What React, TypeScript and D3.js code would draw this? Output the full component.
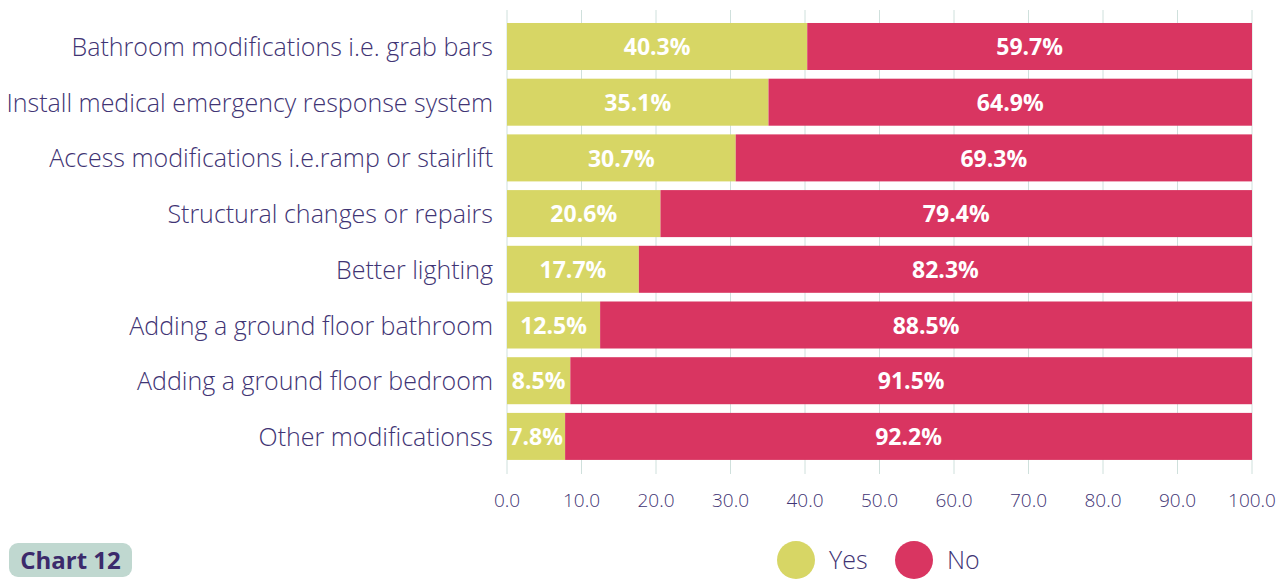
import React from "react";
import * as d3 from "d3";

const categories = [
  "Bathroom modifications i.e. grab bars",
  "Install medical emergency response system",
  "Access modifications i.e.ramp or stairlift",
  "Structural changes or repairs",
  "Better lighting",
  "Adding a ground floor bathroom",
  "Adding a ground floor bedroom",
  "Other modificationss",
];
const yesValues = [40.3, 35.1, 30.7, 20.6, 17.7, 12.5, 8.5, 7.8];
const noValues = [59.7, 64.9, 69.3, 79.4, 82.3, 88.5, 91.5, 92.2];
const tickValues = [0, 10, 20, 30, 40, 50, 60, 70, 80, 90, 100];
const seriesNames = ["Yes", "No"];

const YES = "#d7d665";
const NO = "#d93561";
const TEXT = "#3f3474";
const GRID = "#cfe0dc";
const FONT = "'Open Sans', sans-serif";

export default function App() {
  const W = 1287, H = 579;
  const x = d3.scaleLinear().domain([0, 100]).range([507, 1252]).clamp(true);
  const y = d3.scaleBand<string>().domain(categories).range([14.3, 468.6]).padding(0.156);
  const bw = y.bandwidth();

  return (
    <svg width={W} height={H} style={{ position: "absolute", left: 0, top: 0, fontFamily: FONT }}>
      {tickValues.map((t) => (
        <g key={t}>
          <line x1={x(t)} x2={x(t)} y1={10} y2={474} stroke={GRID} strokeWidth={1} />
          <text x={x(t)} y={507} textAnchor="middle" fontSize={19} fill={TEXT} fontWeight={300}>
            {t.toFixed(1)}
          </text>
        </g>
      ))}
      {categories.map((c, i) => {
        const yy = y(c)!;
        const yv = yesValues[i];
        const nv = noValues[i];
        const x0 = x(0), x1 = x(yv), x2 = x(yv + nv);
        return (
          <g key={c}>
            <rect x={x0} y={yy} width={x1 - x0} height={bw} fill={YES} />
            <rect x={x1} y={yy} width={x2 - x1} height={bw} fill={NO} />
            <text x={493} y={yy + bw / 2} dy="0.38em" textAnchor="end" fontSize={25} fill={TEXT} fontWeight={300}>
              {c}
            </text>
            <text x={(x0 + x1) / 2} y={yy + bw / 2} dy="0.38em" textAnchor="middle" fontSize={23} fill="#fff" fontWeight={700}>
              {yv.toFixed(1)}%
            </text>
            <text x={(x1 + x2) / 2} y={yy + bw / 2} dy="0.38em" textAnchor="middle" fontSize={23} fill="#fff" fontWeight={700}>
              {nv.toFixed(1)}%
            </text>
          </g>
        );
      })}
      {seriesNames.map((s, i) => {
        const cx = i === 0 ? 796 : 914;
        return (
          <g key={s}>
            <circle cx={cx} cy={560} r={19} fill={i === 0 ? YES : NO} />
            <text x={cx + 33} y={560} dy="0.36em" fontSize={25} fill={TEXT} fontWeight={300}>
              {s}
            </text>
          </g>
        );
      })}
      <rect x={9} y={543} width={123} height={34} rx={9} fill="#c0d8d0" />
      <text x={70.5} y={560} dy="0.36em" textAnchor="middle" fontSize={24} fontWeight={700} fill="#3b2a6b">
        Chart 12
      </text>
    </svg>
  );
}
